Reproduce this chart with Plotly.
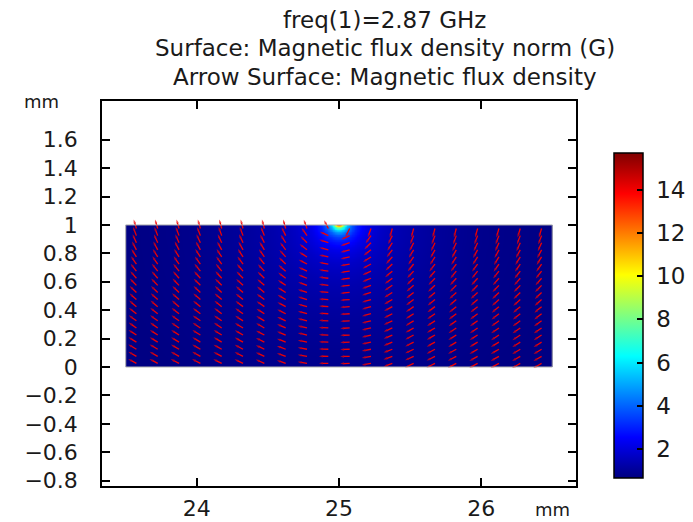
import numpy as np
import plotly.graph_objects as go

# ---------------- data ----------------
title_lines = ["freq(1)=2.87 GHz",
               "Surface: Magnetic flux density norm (G)",
               "Arrow Surface: Magnetic flux density"]

# domain of the surface plot (mm)
domain_x = [23.5, 26.5]
domain_y = [0.0, 1.0]

# hot spot (source) location, mm
source_x = 25.0
source_y = 1.02

profile_r_mm = [0.02, 0.03, 0.04, 0.06, 0.09, 0.13, 0.20, 0.30, 0.45, 0.70, 1.00, 1.60]
profile_B_G = [13.0, 10.5, 8.0, 5.6, 4.0, 3.0, 2.2, 1.7, 1.35, 1.05, 0.85, 0.70]

color_min = 0.66
color_max = 15.7
colorbar_ticks = [2, 4, 6, 8, 10, 12, 14]

# arrow grid (tails), mm
arrow_cols_x = [23.575, 23.725, 23.875, 24.025, 24.175, 24.325, 24.475, 24.625, 24.775, 24.925,
                25.075, 25.225, 25.375, 25.525, 25.675, 25.825, 25.975, 26.125, 26.275, 26.425]
arrow_rows_y = [0.025, 0.075, 0.125, 0.175, 0.225, 0.275, 0.325, 0.375, 0.425, 0.475,
                0.525, 0.575, 0.625, 0.675, 0.725, 0.775, 0.825, 0.875, 0.925, 0.975]

# arrow tilt from horizontal (deg), left half columns 0..9, rows bottom->top
tilt_left = [
    [29, 30, 31, 32, 33, 35, 36, 38, 40, 42, 44, 46, 49, 52, 55, 58, 62, 66, 69, 73],
    [29, 30, 31, 32, 33, 35, 36, 38, 40, 42, 44, 46, 49, 52, 55, 58, 62, 66, 69, 73],
    [28, 29, 30, 31, 33, 34, 36, 38, 40, 42, 44, 46, 49, 52, 55, 58, 62, 66, 69, 74],
    [28, 29, 30, 31, 32, 34, 35, 37, 39, 41, 43, 45, 48, 51, 54, 57, 61, 65, 69, 74],
    [27, 28, 29, 31, 32, 34, 35, 37, 39, 41, 43, 45, 48, 51, 54, 57, 61, 65, 70, 75],
    [26, 27, 28, 29, 30, 31, 33, 35, 37, 39, 41, 43, 46, 49, 53, 57, 61, 65, 69, 75],
    [25, 25, 26, 27, 28, 30, 31, 33, 35, 37, 39, 41, 44, 47, 51, 55, 59, 63, 68, 75],
    [20, 20, 21, 22, 23, 24, 25, 27, 28, 30, 32, 34, 37, 40, 44, 48, 53, 58, 64, 74],
    [10, 10, 11, 12, 13, 13, 14, 15, 16, 17, 18, 20, 22, 25, 28, 32, 38, 45, 55, 70],
    [1, 1, 2, 2, 2, 3, 3, 3, 4, 4, 5, 6, 7, 8, 10, 12, 15, 18, 25, 63],
]
arrow_len_mm = 0.066

# ---------------- surface ----------------
res = 0.005
xc = np.arange(domain_x[0] + res / 2, domain_x[1], res)
yc = np.arange(domain_y[0] + res / 2, domain_y[1], res)
XX, YY = np.meshgrid(xc, yc)
RR = np.hypot(XX - source_x, YY - source_y)
Z = np.interp(np.log(RR), np.log(profile_r_mm), profile_B_G)

jet = [[0.0, "rgb(0,0,128)"], [0.125, "rgb(0,0,255)"], [0.375, "rgb(0,255,255)"],
       [0.625, "rgb(255,255,0)"], [0.875, "rgb(255,0,0)"], [1.0, "rgb(128,0,0)"]]

FONT = "DejaVu Sans"
TXT = "#1a1a1a"
NB = "\u00a0"

fig = go.Figure()
fig.add_trace(go.Heatmap(
    x=xc, y=yc, z=Z, zmin=color_min, zmax=color_max, colorscale=jet,
    zsmooth="best", hoverinfo="skip",
    colorbar=dict(
        x=1.08, xanchor="left", xref="paper", y=0.443, yanchor="middle",
        len=0.844, lenmode="fraction", thickness=29, thicknessmode="pixels",
        xpad=0, ypad=0,
        outlinecolor="black", outlinewidth=1.5,
        tickvals=colorbar_ticks, ticktext=[NB + str(v) for v in colorbar_ticks],
        ticks="inside", ticklen=6, tickcolor="black", tickwidth=1.5,
        tickfont=dict(family=FONT, size=23, color=TXT),
    ),
))

# ---------------- arrows ----------------
ax, ay, asz = [], [], []
for i, x0 in enumerate(arrow_cols_x):
    if i < 10:
        prof = tilt_left[i]
        sign = 1
    else:
        prof = tilt_left[19 - i]
        sign = -1
    for j, y0 in enumerate(arrow_rows_y):
        t = np.deg2rad(prof[j])
        ang = np.pi - sign * t  # up-left on left half, down-left on right half
        x1 = x0 + arrow_len_mm * np.cos(ang)
        y1 = y0 + arrow_len_mm * np.sin(ang)
        ax += [x0, x1, None]
        ay += [y0, y1, None]
        asz += [0, 4, 0]

fig.add_trace(go.Scatter(
    x=ax, y=ay, mode="lines+markers", hoverinfo="skip", showlegend=False,
    line=dict(color="rgb(240,0,0)", width=1.3),
    marker=dict(symbol="arrow", angleref="previous", size=asz, color="rgb(240,0,0)",
                line=dict(width=0)),
))

# domain outline
fig.add_shape(type="rect", x0=domain_x[0], x1=domain_x[1], y0=domain_y[0], y1=domain_y[1],
              line=dict(color="rgb(175,175,175)", width=1), layer="above")

axis_common = dict(showgrid=False, zeroline=False, showline=True, linecolor="black",
                   linewidth=1.5, mirror="ticks", ticks="inside", ticklen=8, tickwidth=1.5,
                   tickcolor="black", tickfont=dict(family=FONT, size=22, color=TXT))

fig.update_layout(
    width=685, height=514,
    margin=dict(l=94, r=117, t=93, b=36, autoexpand=False),
    paper_bgcolor="white", plot_bgcolor="white",
    showlegend=False,
    xaxis=dict(range=[23.333, 26.667], tickvals=[24, 25, 26], ticklabelstandoff=2,
               **axis_common),
    yaxis=dict(range=[-0.838, 1.873], tickvals=[-0.8, -0.6, -0.4, -0.2, 0, 0.2, 0.4, 0.6,
                                               0.8, 1, 1.2, 1.4, 1.6],
               ticktext=["\u22120.8", "\u22120.6", "\u22120.4", "\u22120.2", "0", "0.2", "0.4",
                         "0.6", "0.8", "1", "1.2", "1.4", "1.6"],
               ticklabelstandoff=18, **axis_common),
)

title_y = [1.2104, 1.1377, 1.0623]
for txt, yy in zip(title_lines, title_y):
    fig.add_annotation(text=txt, xref="paper", yref="paper", x=0.597, y=yy,
                       xanchor="center", yanchor="middle", showarrow=False,
                       font=dict(family=FONT, size=23, color=TXT))

fig.add_annotation(text="mm", xref="paper", yref="paper", x=-0.127, y=1.0,
                   xanchor="center", yanchor="middle", showarrow=False,
                   font=dict(family=FONT, size=18, color=TXT))
fig.add_annotation(text="mm", xref="paper", yref="paper", x=0.951, y=-0.062,
                   xanchor="center", yanchor="middle", showarrow=False,
                   font=dict(family=FONT, size=18, color=TXT))

fig.write_html("out.html")
